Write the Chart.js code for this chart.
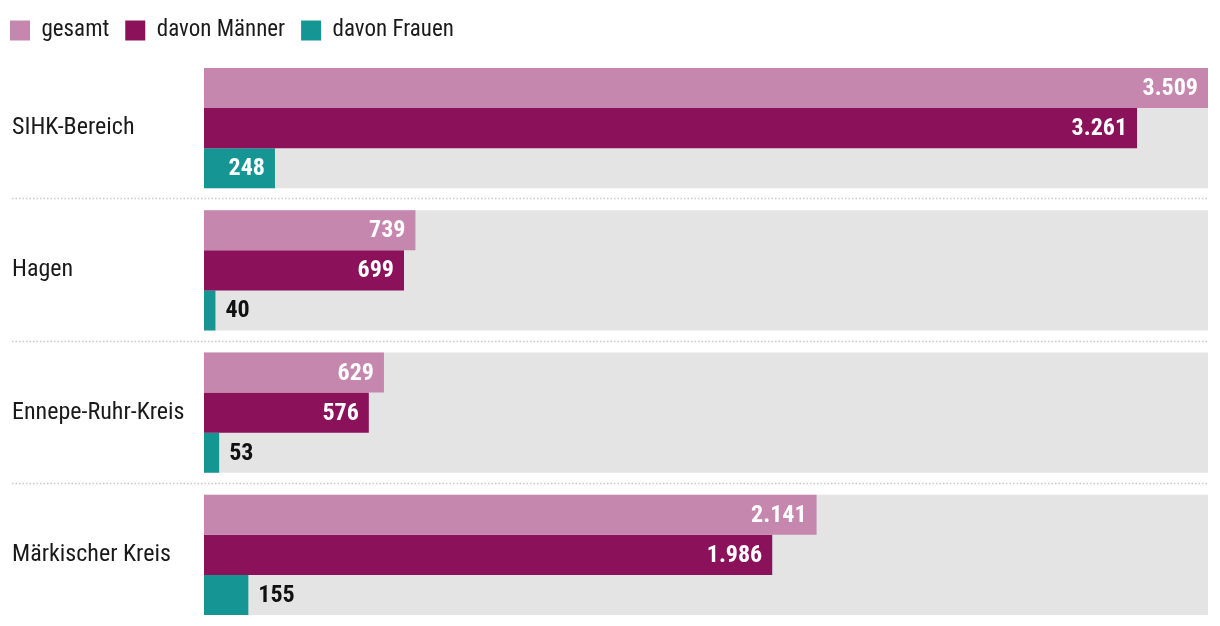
<!DOCTYPE html>
<html lang="de">
<head>
<meta charset="utf-8">
<title>Beschäftigte SIHK-Bereich</title>
<script src="https://cdn.jsdelivr.net/npm/chart.js@4.4.1/dist/chart.umd.min.js"></script>
<style>
  html, body { margin: 0; padding: 0; background: #fff; }
  #wrap { width: 1220px; height: 626px; position: relative; }
</style>
</head>
<body>
<div id="wrap"><canvas id="chart"></canvas></div>
<script>
// Daten
const regions = ['SIHK-Bereich', 'Hagen', 'Ennepe-Ruhr-Kreis', 'Märkischer Kreis'];
const gesamt = [3509, 739, 629, 2141];
const maenner = [3261, 699, 576, 1986];
const frauen = [248, 40, 53, 155];
const seriesLabels = ['gesamt', 'davon Männer', 'davon Frauen'];

const maxVal = Math.max(...gesamt);
const FONT = "'Liberation Sans Narrow', 'Roboto Condensed', 'DejaVu Sans Condensed', 'Liberation Sans', sans-serif";

Chart.defaults.font.family = FONT;

// 3.509 statt 3,509
function fmt(v) {
    return String(v).replace(/\B(?=(\d{3})+(?!\d))/g, '.');
}

// Werte an die Balken schreiben
const valueLabels = {
    id: 'valueLabels',
    afterDatasetsDraw(chart) {
        const ctx = chart.ctx;
        ctx.save();
        ctx.font = 'bold 24px ' + FONT;
        ctx.textBaseline = 'middle';
        for (let d = 0; d < 3; d++) {
            const meta = chart.getDatasetMeta(d);
            meta.data.forEach((bar, i) => {
                const txt = fmt(chart.data.datasets[d].data[i]);
                const tw = ctx.measureText(txt).width;
                const w = bar.x - bar.base;
                if (w >= tw + 20) {
                    ctx.fillStyle = '#fff';
                    ctx.textAlign = 'right';
                    ctx.fillText(txt, bar.x - 10, bar.y + 1);
                } else {
                    ctx.fillStyle = '#111';
                    ctx.textAlign = 'left';
                    ctx.fillText(txt, bar.x + 10, bar.y + 1);
                }
            });
        }
        ctx.restore();
    }
};

// gepunktete Trennlinien zwischen den Regionen
const separators = {
    id: 'separators',
    afterDatasetsDraw(chart) {
        const ys = chart.scales.y;
        const ctx = chart.ctx;
        ctx.save();
        ctx.strokeStyle = '#c9c9c9';
        ctx.lineWidth = 1.5;
        ctx.setLineDash([1.5, 2]);
        for (let i = 1; i < regions.length; i++) {
            const y = Math.round((ys.getPixelForValue(i - 1) + ys.getPixelForValue(i)) / 2) - 0.5;
            ctx.beginPath();
            ctx.moveTo(12, y);
            ctx.lineTo(chart.chartArea.right, y);
            ctx.stroke();
        }
        ctx.restore();
    }
};

// Legende: feste Hoehe und etwas nach links ruecken
const legendTweak = {
    id: 'legendTweak',
    beforeInit(chart) {
        const fit = chart.legend.fit;
        chart.legend.fit = function () {
            fit.call(this);
            this.height = 54;
        };
    },
    afterLayout(chart) {
        if (chart.legend) chart.legend.left = -6;
    }
};

const ctx = document.getElementById('chart').getContext('2d');
new Chart(ctx, {
    type: 'bar',
    data: {
        labels: regions,
        datasets: [
            { label: seriesLabels[0], data: gesamt, backgroundColor: '#c587ae' },
            { label: seriesLabels[1], data: maenner, backgroundColor: '#8c115b' },
            { label: seriesLabels[2], data: frauen, backgroundColor: '#159594' },
            // grauer Hintergrundbalken
            { label: 'hintergrund', data: regions.map(() => maxVal), backgroundColor: '#e4e4e4', grouped: false, order: 10 }
        ]
    },
    options: {
        indexAxis: 'y',
        responsive: true,
        maintainAspectRatio: false,
        animation: false,
        layout: { padding: { left: 12, right: 12, top: 3, bottom: 0 } },
        datasets: {
            bar: { categoryPercentage: 120 / 142, barPercentage: 1 }
        },
        scales: {
            x: { min: 0, max: maxVal, display: false },
            y: {
                grid: { display: false },
                border: { display: false },
                ticks: {
                    crossAlign: 'far',
                    color: '#1a1a1a',
                    font: { size: 24 }
                },
                afterFit(scale) {
                    scale.width = 192;
                    scale.paddingTop = 0;
                    scale.paddingBottom = 0;
                }
            }
        },
        plugins: {
            legend: {
                position: 'top',
                align: 'start',
                labels: {
                    boxWidth: 20,
                    boxHeight: 20,
                    padding: 16,
                    color: '#1a1a1a',
                    font: { size: 23 },
                    filter: item => item.datasetIndex < 3
                }
            },
            tooltip: { enabled: false }
        }
    },
    plugins: [valueLabels, separators, legendTweak]
});
</script>
</body>
</html>
